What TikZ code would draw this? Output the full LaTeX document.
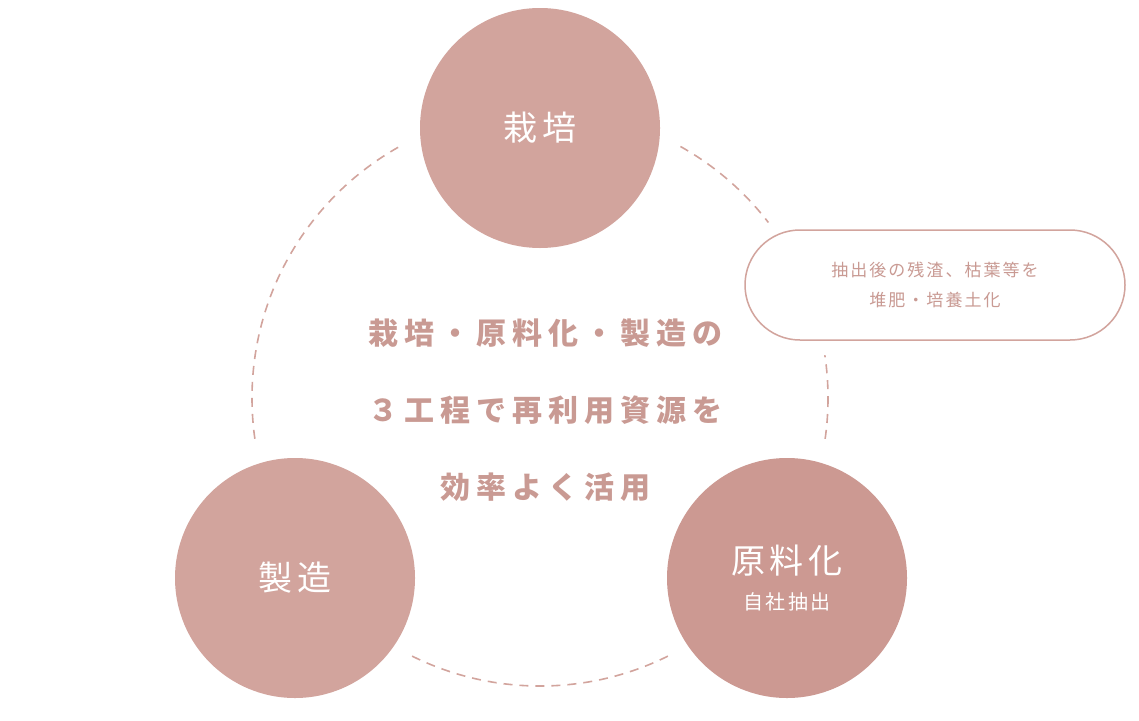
\documentclass[tikz,border=0pt]{standalone}
\usepackage{fontspec}
\newfontfamily\cjk{Noto Sans CJK JP}[LetterSpace=12]
\newfontfamily\cjkwide{Noto Sans CJK JP}[LetterSpace=20]
\definecolor{rosefill}{HTML}{D2A49D}
\definecolor{rosedark}{HTML}{CC9992}
\definecolor{rosetext}{HTML}{C99A93}
\tikzset{
  stage/.style={circle, minimum size=240pt, inner sep=0pt, fill=rosefill, text=white, font=\cjk\fontsize{34}{40}\selectfont,
    preaction={draw=white, line width=40pt}},
  note/.style={rectangle, rounded corners=55pt, minimum width=380pt, minimum height=110pt, draw=rosefill, line width=1.5pt, fill=white,
    text=rosetext, align=center, font=\cjk\fontsize{17}{30}\selectfont, preaction={draw=white, line width=30pt}},
  ring/.style={draw=rosefill, line width=1.6pt, dash pattern=on 9pt off 7pt}
}
\begin{document}
\begin{tikzpicture}[x=1pt,y=-1pt]
\useasboundingbox (0,0) rectangle (1139,720);
\draw[ring] (540,398) circle[radius=288];
\node[stage] (saibai) at (540,128) {栽培};
\node[stage] (seizo) at (295,578) {製造};
\node[stage, fill=rosedark, align=center] (genryo) at (787,578) {原料化\\[-4pt]{\fontsize{20}{24}\selectfont 自社抽出}};
\node[note] (zansa) at (935,285) {抽出後の残渣、枯葉等を\\堆肥・培養土化};
\node[text=rosetext, align=center, font=\cjkwide\bfseries\fontsize{30}{77}\selectfont] (theme) at (545,410)
  {栽培・原料化・製造の\\３工程で再利用資源を\\効率よく活用};
\end{tikzpicture}
\end{document}
